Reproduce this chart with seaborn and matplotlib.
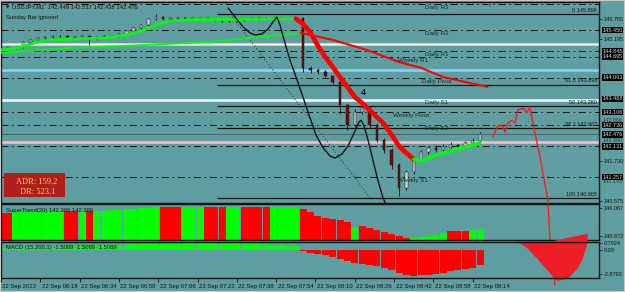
import numpy as np
import pandas as pd
import matplotlib
matplotlib.use("Agg")
import matplotlib.pyplot as plt
import seaborn as sns
from matplotlib.patches import Rectangle
from matplotlib.transforms import ScaledTranslation, blended_transform_factory

# ----------------------------- data -----------------------------
header = "USDJPY,M1  142.449 142.537 142.438 142.476"
candle_bars = list(range(0, 198, 3))          # minute index (06:02 = 0), one candle per 3 min
first_open = 144.92
closes = [144.94, 144.94, 144.97, 145.11, 145.17, 145.22, 145.25, 145.28, 145.28, 145.25,
          145.25, 145.28, 145.20, 145.25, 145.28, 145.28, 145.34, 145.42, 145.51, 145.59,
          145.77, 145.82, 145.77, 145.77, 145.79, 145.77, 145.77, 145.77, 145.77, 145.74,
          145.71, 145.71, 145.74, 145.77, 145.77, 145.79, 145.79, 145.79, 145.80, 145.79,
          145.79, 144.37, 144.31, 144.25, 144.14, 143.97, 143.31, 142.74, 143.11, 143.23,
          142.74, 142.31, 142.03, 141.60, 140.95, 141.40, 141.74, 141.97, 142.09, 142.03,
          142.12, 142.17, 142.14, 142.23, 142.29, 142.49]
highs = [144.97, 144.97, 145.00, 145.14, 145.20, 145.25, 145.28, 145.31, 145.31, 145.30,
         145.29, 145.32, 145.30, 145.28, 145.31, 145.31, 145.37, 145.45, 145.55, 145.63,
         145.80, 145.90, 145.84, 145.80, 145.82, 145.81, 145.80, 145.80, 145.80, 145.79,
         145.76, 145.74, 145.77, 145.80, 145.80, 145.82, 145.82, 145.83, 145.83, 145.82,
         145.82, 145.81, 144.42, 144.36, 144.30, 144.18, 144.00, 143.35, 143.20, 143.45,
         143.28, 142.80, 142.36, 142.08, 141.65, 141.45, 141.80, 142.02, 142.14, 142.16,
         142.20, 142.26, 142.21, 142.30, 142.36, 142.54]
lows = [144.89, 144.90, 144.92, 144.95, 145.09, 145.15, 145.20, 145.23, 145.25, 145.22,
        145.22, 145.23, 145.03, 145.18, 145.23, 145.25, 145.26, 145.32, 145.40, 145.49,
        145.57, 145.74, 145.74, 145.74, 145.75, 145.74, 145.74, 145.74, 145.74, 145.70,
        145.68, 145.67, 145.69, 145.72, 145.74, 145.75, 145.76, 145.76, 145.76, 145.76,
        145.76, 144.25, 144.24, 144.20, 144.08, 143.90, 143.05, 142.60, 142.70, 143.05,
        142.65, 142.25, 141.95, 141.50, 140.72, 140.90, 141.36, 141.70, 141.92, 141.98,
        141.99, 142.08, 142.08, 142.10, 142.19, 142.27]
fast_ma = [144.88, 144.91, 144.94, 144.99, 145.05, 145.11, 145.14, 145.17, 145.18, 145.19,
           145.19, 145.21, 145.21, 145.22, 145.22, 145.25, 145.28, 145.31, 145.37, 145.42,
           145.51, 145.59, 145.67, 145.71, 145.72, 145.74, 145.74, 145.75, 145.75, 145.75,
           145.75, 145.75, 145.75, 145.76, 145.76, 145.76, 145.77, 145.77, 145.77, 145.78,
           145.78, 145.62, 145.37, 145.00, 144.68, 144.40, 144.11, 143.83, 143.54, 143.37,
           143.17, 142.97, 142.77, 142.46, 142.14, 141.94, 141.77, 141.72, 141.80, 141.89,
           141.94, 142.00, 142.06, 142.12, 142.17, 142.23]
fast_red_start, fast_red_end = 40, 56
slow_ma_bars = [0, 28, 57, 85, 122, 135, 149, 162, 171, 180, 198]
slow_ma_vals = [144.80, 144.94, 145.02, 145.11, 145.37, 145.17, 144.88, 144.54, 144.37, 144.11, 143.83]
slow_red_start = 4

supertrend = [145.14, 145.14, 145.32, 145.32, 145.32, 145.32, 145.32, 145.32, 145.32, 145.51,
              145.51, 145.51, 145.51, 145.51, 145.51, 145.70, 145.70, 145.88, 145.88, 146.07,
              146.07, 146.25, 146.25, 146.25, 146.25, 146.25, 146.25, 146.25, 146.25, 146.25,
              146.25, 146.25, 146.25, 146.25, 146.25, 146.25, 146.25, 146.25, 146.25, 146.25,
              146.25, 145.88, 145.32, 144.58, 144.21, 144.03, 143.84, 143.47, 142.54, 142.73,
              142.36, 141.99, 141.61, 141.24, 140.87, 140.50, 140.50, 140.69, 140.87, 141.06,
              141.43, 141.80, 141.80, 141.80, 141.99, 142.17]
supertrend_dir = "rrgggggggrrgrgggggggggrrrgggrrrggrrrrggggrrrrrrrgrrrrrrrgggggrrrgg"
macd_hist = [0.30, 0.30, 0.32, 0.33, 0.35, 0.36, 0.38, 0.40, 0.42, 0.44,
             0.46, 0.48, 0.50, 0.52, 0.55, 0.58, 0.61, 0.64, 0.67, 0.70,
             0.72, 0.74, 0.76, 0.78, 0.80, 0.82, 0.84, 0.85, 0.86, 0.86,
             0.85, 0.84, 0.82, 0.79, 0.75, 0.71, 0.67, 0.62, 0.57, 0.52,
             0.45, -0.10, -0.30, -0.45, -0.62, -0.84, -1.05, -1.30, -1.50, -1.65,
             -1.80, -1.95, -2.15, -2.45, -2.80, -3.00, -3.10, -3.05, -2.95, -2.85,
             -2.70, -2.55, -2.40, -2.25, -2.10, -1.85]

time_tick_bars = [0, 16, 32, 48, 64, 80, 96, 112, 128, 144, 160, 176, 192]
time_tick_labels = ["22 Sep 2022", "22 Sep 06:18", "22 Sep 06:34", "22 Sep 06:50", "22 Sep 07:06",
                    "22 Sep 07:22", "22 Sep 07:38", "22 Sep 07:54", "22 Sep 08:10", "22 Sep 08:26",
                    "22 Sep 08:42", "22 Sep 08:58", "22 Sep 09:14"]

pivot_names = ["Daily R3", "Daily R2", "Daily R1", "Weekly R1", "Daily Pivot",
               "Weekly Pivot", "Daily S2", "", "Weekly S1"]
pivot_prices = [146.20, 145.450, 144.845, 144.695, 144.093, 143.106, 142.736, 142.131, 141.257]
pivot_label_bars = [172.5, 172.5, 172.5, 161.5, 171.5, 159.5, 172.5, 172.5, 161.5]
daily_s1_name, daily_s1_price = "Daily S1", 143.488

band_prices = [145.05, 144.31, 143.47, 142.26]
band_colors = ["#f6e4e4", "#87cefa", "#eeeefa", "#ffb6c1"]
bid_price = 142.476

fib_pcts = ["0", "61.8", "50", "38.2", "100"]
fib_prices = [145.896, 143.898, 143.280, 142.662, 140.665]
fib_start_bar = 88

axis_plain = [145.765, 145.195, 141.730, 140.575]
axis_hidden = [142.866, 142.300, 141.145]
axis_marked = [145.450, 144.845, 144.695, 144.093, 143.488, 143.106, 142.736, 142.476, 142.131, 141.257]
st_axis = [146.067, 140.872]
macd_axis = [0.7924, 0.0, -2.8793]
macd_axis_labels = ["0.7924", "0.00", "-2.8793"]

curve_bars = [92.4, 95.6, 98.5, 101.3, 103.4, 106.2, 108.7, 110.7, 112.3, 113.6, 115.2, 117.6,
              120.5, 123.3, 125.8, 128.2, 131.1, 133.9, 135.9, 138.8, 141.2, 143.7, 145.7, 146.5,
              147.7, 149.4, 151.4, 153.4, 155.5, 157.5]
curve_prices = [146.08, 145.79, 145.54, 145.37, 145.31, 145.34, 145.48, 145.68, 145.82, 145.59,
                145.17, 144.60, 144.03, 143.46, 142.94, 142.46, 142.09, 141.86, 141.80, 141.92,
                142.14, 142.51, 142.83, 142.88, 142.74, 142.31, 141.74, 141.17, 140.66, 140.37]
diag_bars = [93.2, 151.0]
diag_prices = [145.91, 140.60]
proj_bars = [200.2, 201.9, 203.9, 205.1, 206.4, 208.0, 209.2, 210.4, 212.5, 214.1, 215.3, 216.5,
             219.4, 222.6, 223.4, 225.5]
proj_prices = [142.40, 142.69, 142.74, 142.54, 142.80, 142.88, 142.80, 143.17, 143.23, 143.09,
               143.26, 142.80, 141.83, 140.60, 139.52, 138.18]
shape_bars = [209.6, 224.7, 230.4, 234.4, 238.9, 238.5, 236.9, 234.8, 231.5, 228.3, 226.3, 223.4, 219.4, 214.1]
shape_macd = [1.08, 1.08, 1.44, 1.68, 1.92, 0.60, -0.96, -2.16, -3.24, -3.60, -3.72, -2.76, -1.44, 0.24]
wave_label, wave_bar, wave_price = "4", 147.3, 143.66

adr_text, dr_text = "ADR: 159.2", "DR: 523.1"

# ----------------------------- style -----------------------------
BG = "#5f9ea0"
INK = "#141414"
GREEN = "#00ff00"
RED = "#ff0000"

sns.set_theme(style="ticks", rc={"axes.facecolor": "none", "figure.facecolor": BG})
plt.rcParams["font.family"] = ["Liberation Sans", "DejaVu Sans"]

W, H = 625, 292
fig = plt.figure(figsize=(W / 100, H / 100), dpi=100)
fig.patch.set_facecolor(BG)


def pane(x0, y0, x1, y1):
    a = fig.add_axes([x0 / W, 1 - y1 / H, (x1 - x0) / W, (y1 - y0) / H])
    a.set_facecolor("none")
    for s in a.spines.values():
        s.set_color(INK)
        s.set_linewidth(1.0)
    return a


ax = pane(1, 2, 599, 203)
ax_st = pane(1, 204, 599, 240)
ax_md = pane(1, 242, 599, 278)
XMAX = 243.4
for a in (ax, ax_st, ax_md):
    a.set_xlim(0, XMAX)
    a.yaxis.tick_right()
    a.tick_params(axis="y", length=2, width=0.5, pad=1.5, labelsize=4, colors=INK)
ax.set_ylim(140.52, 146.25)
ax_st.set_ylim(140.13, 146.81)
ax_md.set_ylim(-3.36, 0.96)
ax.set_xticks([])
ax_st.set_xticks([])

# ---------------- main chart: horizontal levels ----------------
for p, col in zip(band_prices, band_colors):
    if col == "#f6e4e4":
        ax.axhline(p, color="#f0b8b8", lw=2.2, zorder=1)
        ax.axhline(p, color="#fbf4f4", lw=1.0, zorder=1)
    else:
        ax.axhline(p, color=col, lw=2.0, zorder=1)
ax.axhline(bid_price, color="#3d5f60", lw=0.6, zorder=1)
for p in pivot_prices:
    ax.axhline(p, color=INK, lw=0.7, ls=(0, (7, 4, 1.5, 4)), zorder=1)
ax.hlines(fib_prices, fib_start_bar, XMAX, color=INK, lw=0.9, zorder=1)

lab_kw = dict(fontsize=4.5, color="#1b2b2b", va="top", ha="left", zorder=6)
for n, p, b in zip(pivot_names, pivot_prices, pivot_label_bars):
    if n:
        ax.text(b, p - 0.03, n, **lab_kw)
ax.text(172.5, daily_s1_price - 0.03, daily_s1_name, **lab_kw)
for pct, p in zip(fib_pcts, fib_prices):
    ax.text(242.6, p + 0.03, f"{pct} {p:.3f}", fontsize=4, color=INK, ha="right", va="bottom", zorder=6)

# ---------------- candles ----------------
xb = np.array(candle_bars, dtype=float)
c = np.array(closes)
o = np.array([first_open] + closes[:-1])
hi = np.array(highs)
lo = np.array(lows)
ax.vlines(xb, lo, hi, color=INK, lw=0.6, zorder=3)
up = c >= o
body_b = np.minimum(o, c)
body_h = np.maximum(np.abs(c - o), 0.014)
ax.bar(xb[up], body_h[up], bottom=body_b[up], width=1.0, color="#d9d9d9",
       edgecolor=INK, lw=0.35, zorder=4)
ax.bar(xb[~up], body_h[~up], bottom=body_b[~up], width=1.0, color="#6e0c0c",
       edgecolor=INK, lw=0.35, zorder=4)

# ---------------- moving averages ----------------
ma = pd.DataFrame({"bar": candle_bars, "fast": fast_ma})
sns.lineplot(data=ma.iloc[:fast_red_start + 1], x="bar", y="fast", ax=ax, color=GREEN, lw=2.0, zorder=5)
sns.lineplot(data=ma.iloc[fast_red_start:fast_red_end + 1], x="bar", y="fast", ax=ax, color=RED, lw=3.4, zorder=5)
sns.lineplot(data=ma.iloc[fast_red_end:], x="bar", y="fast", ax=ax, color=GREEN, lw=2.4, zorder=5)
slow = pd.DataFrame({"bar": slow_ma_bars, "slow": slow_ma_vals})
sns.lineplot(data=slow.iloc[:slow_red_start + 1], x="bar", y="slow", ax=ax, color=GREEN, lw=1.3, zorder=5)
sns.lineplot(data=slow.iloc[slow_red_start:], x="bar", y="slow", ax=ax, color=RED, lw=1.5, zorder=5)
ax.set_xlabel("")
ax.set_ylabel("")

# ---------------- drawn objects ----------------
ax.plot(curve_bars, curve_prices, color=INK, lw=1.0, zorder=6)
ax.plot(diag_bars, diag_prices, color="#333333", lw=0.6, ls=(0, (1.5, 2.5)), zorder=2)
ax.plot(proj_bars, proj_prices, color="#ff1a1a", lw=1.0, zorder=7, clip_on=False)
ax.text(wave_bar, wave_price, wave_label, fontsize=6.5, fontweight="bold", color=INK,
        ha="center", va="center", zorder=7)

# ---------------- header & info ----------------
ax.text(0.008, 0.975, "\u25BC", transform=ax.transAxes, fontsize=3.2, color=INK, va="center",
        family=["DejaVu Sans"])
ax.text(0.019, 0.975, header, transform=ax.transAxes, fontsize=4.2, color=INK, va="center")
ax.text(0.008, 0.925, "Sunday Bar ignored", transform=ax.transAxes, fontsize=4.2, color=INK, va="center")
ax.text(199, 0.987, "\u25BC", transform=blended_transform_factory(ax.transData, ax.transAxes),
        fontsize=3.5, color="#6a6a6a", ha="center", va="center", family=["DejaVu Sans"])
ax.add_patch(Rectangle((0.005, 0.030), 0.102, 0.119, transform=ax.transAxes,
                       facecolor="#b01e1e", edgecolor="none", zorder=8))
ax.text(0.0936, 0.1045, adr_text, transform=ax.transAxes, fontsize=6, color="#ffd24d",
        ha="right", va="center", family=["Liberation Serif"], zorder=9)
ax.text(0.0905, 0.0547, dr_text, transform=ax.transAxes, fontsize=6, color="#ffd24d",
        ha="right", va="center", family=["Liberation Serif"], zorder=9)

# ---------------- right price axis ----------------
ax.set_yticks(axis_plain)
ax.set_yticklabels([f"{v:.3f}" for v in axis_plain])
rt = blended_transform_factory(ax.transAxes, ax.transData)
for v in axis_hidden:
    ax.text(1.0055, v, f"{v:.3f}", transform=rt, fontsize=4, color="#2a4040", va="center",
            ha="left", clip_on=False)
for v in axis_marked:
    ax.text(1.0055, v, f"{v:.3f}", transform=rt, fontsize=4, color="#dcdcdc", va="center",
            ha="left", clip_on=False,
            bbox=dict(boxstyle="square,pad=0.12", fc="black", ec="none"))

# ---------------- SuperTrend pane ----------------
st_base = 140.13
st_cols = [GREEN if d == "g" else RED for d in supertrend_dir]
ax_st.bar(candle_bars, np.array(supertrend) - st_base, bottom=st_base, width=2.85,
          color=st_cols, lw=0, zorder=2)
ax_st.set_yticks(st_axis)
ax_st.set_yticklabels([f"{v:.3f}" for v in st_axis])
ax_st.text(0.008, 0.83, "SuperTrend(20) 142.386 142.386", transform=ax_st.transAxes,
           fontsize=4.2, color=INK, va="center", zorder=5)

# ---------------- MACD pane ----------------
md_cols = [GREEN if v >= 0 else RED for v in macd_hist]
ax_md.bar(candle_bars, macd_hist, width=2.85, color=md_cols, lw=0, zorder=2)
ax_md.fill(shape_bars, shape_macd, color="#ee1c24", lw=0, zorder=1, clip_on=False)
ax_md.set_yticks(macd_axis)
ax_md.set_yticklabels(macd_axis_labels)
ax_md.text(0.008, 0.86, "MACD (15,200,1) -1.5089 -1.5089 -1.5089", transform=ax_md.transAxes,
           fontsize=4.2, color=INK, va="center", zorder=5)
ax_md.set_xticks(time_tick_bars)
ax_md.set_xticklabels(time_tick_labels, ha="left")
ax_md.tick_params(axis="x", length=3, width=0.6, color=INK, pad=1.5, labelsize=4.3, labelcolor=INK)
shift = ScaledTranslation(1.5 / 100, 0, fig.dpi_scale_trans)
for lbl in ax_md.get_xticklabels():
    lbl.set_transform(lbl.get_transform() + shift)

fig.add_artist(Rectangle((0, 0), 1, 1, transform=fig.transFigure, fill=False,
                         edgecolor="#c8c8c8", lw=1.5))
fig.savefig("out.png", dpi=100, facecolor=BG)
